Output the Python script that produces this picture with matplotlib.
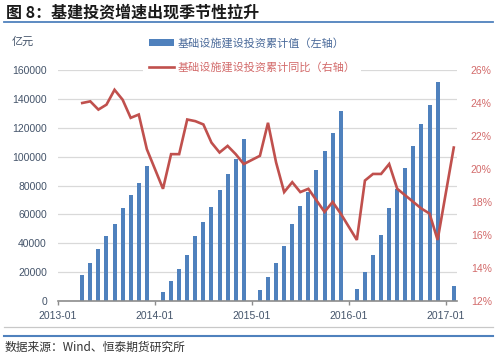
import matplotlib
matplotlib.use("Agg")
import matplotlib.pyplot as plt
from matplotlib.lines import Line2D
from matplotlib.patches import Patch

plt.rcParams['font.family'] = ['Liberation Sans', 'Noto Sans CJK SC', 'DejaVu Sans']

# monthly data (Jan is merged into Feb, so no Jan points)
dates = [
    "2013-04", "2013-05", "2013-06", "2013-07", "2013-08", "2013-09", "2013-10", "2013-11", "2013-12",
    "2014-02", "2014-03", "2014-04", "2014-05", "2014-06", "2014-07", "2014-08", "2014-09", "2014-10", "2014-11", "2014-12",
    "2015-02", "2015-03", "2015-04", "2015-05", "2015-06", "2015-07", "2015-08", "2015-09", "2015-10", "2015-11", "2015-12",
    "2016-02", "2016-03", "2016-04", "2016-05", "2016-06", "2016-07", "2016-08", "2016-09", "2016-10", "2016-11", "2016-12",
    "2017-02",
]
cum_value = [
    18100, 26000, 36300, 45100, 53600, 64200, 73200, 81800, 93600,
    6200, 13800, 22100, 32000, 44700, 54900, 65300, 77000, 88300, 98500, 112100,
    7400, 16800, 26500, 38100, 53400, 65600, 75800, 91000, 104200, 116400, 131600,
    8500, 20300, 31600, 45700, 64100, 77500, 91800, 107500, 122500, 136000, 152000,
    10400,
]
yoy = [
    24.0, 24.1, 23.6, 23.9, 24.8, 24.2, 23.1, 23.3, 21.2,
    18.8, 20.9, 20.9, 23.0, 22.9, 22.7, 21.6, 21.0, 21.4, 20.9, 20.3,
    20.8, 22.8, 20.4, 18.6, 19.2, 18.6, 18.8, 18.1, 17.4, 18.0, 17.3,
    15.7, 19.3, 19.7, 19.7, 20.3, 18.8, 18.4, 18.0, 17.6, 17.3, 15.7,
    21.3,
]
xtick_labels = ["2013-01", "2014-01", "2015-01", "2016-01", "2017-01"]

label_bar = "基础设施建设投资累计值（左轴）"
label_line = "基础设施建设投资累计同比（右轴）"

BLUE = "#4f81bd"
RED = "#c0504d"
AXIS_TXT = "#44546a"
RED_TXT = "#d36b6b"


def month_idx(s):
    y, m = s.split("-")
    return (int(y) - 2013) * 12 + int(m) - 1


x = [month_idx(d) for d in dates]
xt = [month_idx(d) for d in xtick_labels]

W, H = 497, 362
fig = plt.figure(figsize=(W / 100, H / 100), dpi=100)
ax = fig.add_axes([58 / W, 1 - 301 / H, (457 - 58) / W, (301 - 70) / H])
ax2 = ax.twinx()

ax.bar(x, cum_value, width=0.5, color=BLUE, zorder=2)
ax2.plot(x, yoy, color=RED, lw=1.9, solid_joinstyle="miter", zorder=3)

ax.set_xlim(0, 49.4)
ax.set_ylim(0, 160000)
ax.set_yticks(range(0, 160001, 20000))
ax2.set_ylim(12, 26)
ax2.set_yticks(range(12, 27, 2))
ax2.set_yticklabels([f"{v}%" for v in range(12, 27, 2)])

ax.set_xticks(xt)
ax.set_xticklabels(xtick_labels)

ax.grid(axis="y", color="#d9d9d9", lw=0.9, zorder=0)
ax.set_axisbelow(True)
for a in (ax, ax2):
    for s in ("top", "right", "left"):
        a.spines[s].set_visible(False)
ax2.spines["bottom"].set_visible(False)
ax.spines["bottom"].set_color("#8c8c8c")
ax.spines["bottom"].set_linewidth(1.2)
ax.spines["bottom"].set_zorder(4)

ax.tick_params(axis="y", length=0, pad=8, labelsize=7.5, labelcolor=AXIS_TXT)
ax.tick_params(axis="x", length=3, width=1, color="#8c8c8c", pad=4, labelsize=7.5, labelcolor=AXIS_TXT)
ax2.tick_params(axis="y", length=0, pad=10, labelsize=7.5, labelcolor=RED_TXT)

handles = [Patch(facecolor=BLUE, edgecolor="none"), Line2D([], [], color=RED, lw=1.9)]
leg = ax2.legend(handles, [label_bar, label_line], loc="upper left",
                 bbox_to_anchor=(143 / W, 1 - 32 / H), bbox_transform=fig.transFigure,
                 frameon=True, fancybox=False, facecolor="white", edgecolor="none", framealpha=1,
                 prop={"family": "Noto Sans CJK SC", "size": 8},
                 handlelength=2.3, handletextpad=0.3, labelspacing=1.25, borderpad=0.5, borderaxespad=0)
leg.get_texts()[0].set_color("#4a6a9a")
leg.get_texts()[1].set_color(RED_TXT)

fig.text(6 / W, 1 - 12 / H, "图 8：基建投资增速出现季节性拉升", family="Noto Sans CJK SC",
         fontsize=11.5, weight="bold", color="#1a1a1a", va="center", ha="left")
fig.add_artist(Line2D([4 / W, 493 / W], [1 - 22 / H] * 2, color="#4f81bd", lw=1.3, transform=fig.transFigure))

fig.text(12 / W, 1 - 42 / H, "亿元", family="Noto Sans CJK SC", fontsize=8, color=AXIS_TXT, va="center")

fig.add_artist(Line2D([4 / W, 493 / W], [1 - 326.5 / H] * 2, color="#c8c8c8", lw=0.9, transform=fig.transFigure))
fig.add_artist(Line2D([4 / W, 493 / W], [1 - 335.5 / H] * 2, color="#4f81bd", lw=1.5, transform=fig.transFigure))
fig.text(5 / W, 1 - 347 / H, "数据来源：Wind、恒泰期货研究所", family="Noto Sans CJK SC",
         fontsize=8.5, color="#333333", va="center", ha="left")

fig.savefig("out.png", dpi=100)
